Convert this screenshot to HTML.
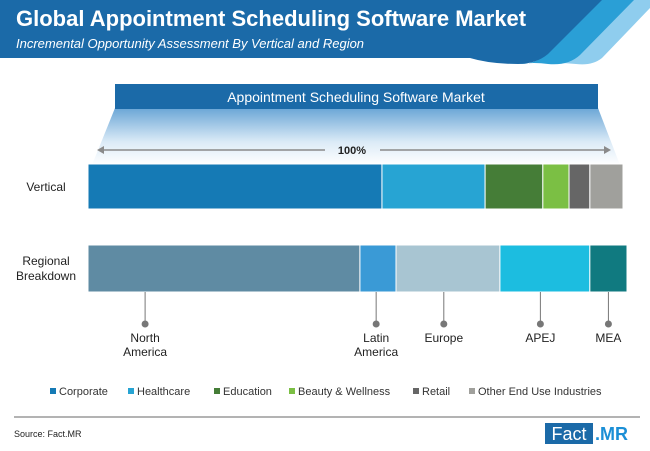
<!DOCTYPE html>
<html><head><meta charset="utf-8"><style>
html,body{margin:0;padding:0;background:#fff;}
svg{display:block;font-family:"Liberation Sans",sans-serif;}
</style></head><body>
<svg id="chart" width="650" height="451" viewBox="0 0 650 451">
<defs>
<linearGradient id="fade" x1="0" y1="0" x2="0" y2="1">
<stop offset="0" stop-color="#6aa6d6"/><stop offset="0.6" stop-color="#dcebf7"/><stop offset="1" stop-color="#ffffff"/>
</linearGradient>
</defs>
<g>
<path d="M632 0 H650 V8 L602 58 Q592 66 576 64 Q566 63 558 63 Q570 62 578 54 Z" fill="#8fcdee"/>
<path d="M600 0 H634 L580 55 Q568 66 548 64 Q534 62 520 64 Q535 64 545 55 Z" fill="#2a9fd6"/>
<path d="M0 0 H602 L548 54 Q536 64 518 64 Q490 64 470 58 H0 Z" fill="#1b6aa8"/>
<text x="16" y="26" fill="#fff" font-size="22" font-weight="bold">Global Appointment Scheduling Software Market</text>
<text x="16" y="48" fill="#fff" font-size="13" font-style="italic">Incremental Opportunity Assessment By Vertical and Region</text>
</g>
<path d="M115 108 H598 L620 165 H92 Z" fill="url(#fade)"/>
<rect x="115" y="84" width="483" height="25" fill="#1b6aa8"/>
<text x="356" y="102" fill="#fff" font-size="14" text-anchor="middle">Appointment Scheduling Software Market</text>
<g stroke="#8a8a8a" stroke-width="1.5" fill="#8a8a8a">
<line x1="100" y1="150" x2="325" y2="150"/><line x1="380" y1="150" x2="608" y2="150"/>
<path d="M97 150 L104 146 L104 154 Z" stroke="none"/><path d="M611 150 L604 146 L604 154 Z" stroke="none"/>
</g>
<text x="352" y="154" font-size="11" font-weight="bold" text-anchor="middle" fill="#222">100%</text>
<text x="46" y="191" font-size="12" text-anchor="middle" fill="#222">Vertical</text>
<text x="46" y="265" font-size="12" text-anchor="middle" fill="#222">Regional</text>
<text x="46" y="280" font-size="12" text-anchor="middle" fill="#222">Breakdown</text>
<g id="bars"></g>
<line x1="14" y1="417" x2="640" y2="417" stroke="#9a9a9a" stroke-width="1.5"/>
<text x="14" y="437" font-size="9" fill="#222">Source: Fact.MR</text>
<g>
<rect x="545" y="423" width="48" height="21" fill="#1b6aa8"/>
<text x="569" y="440" font-size="18" fill="#fff" text-anchor="middle">Fact</text>
<text x="595" y="440" font-size="18" fill="#1b8fd6" font-weight="bold">.MR</text>
</g>
</svg>
<script>
const verticalCategories = ["Corporate","Healthcare","Education","Beauty & Wellness","Retail","Other End Use Industries"];
const verticalShares = [55, 19.3, 10.8, 4.9, 3.9, 6.2];
const verticalColors = ["#157ab5","#27a4d3","#457d37","#7bbf44","#666666","#a0a09c"];
const regionCategories = ["North America","Latin America","Europe","APEJ","MEA"];
const regionShares = [50.5, 6.7, 19.3, 16.7, 6.9];
const regionColors = ["#5f8ba3","#3a9ad6","#a8c5d2","#1cbde0","#107a80"];
const regionLabelLines = [["North","America"],["Latin","America"],["Europe"],["APEJ"],["MEA"]];
const leaderFraction = [0.21, 0.45, 0.46, 0.45, 0.5];

const NS = "http://www.w3.org/2000/svg";
const g = document.getElementById("bars");
function mk(tag, attrs){const e=document.createElementNS(NS,tag);for(const k in attrs)e.setAttribute(k,attrs[k]);g.appendChild(e);return e;}
function xScale(total, x0, w){return v => x0 + v/total*w;}

(function(){
  const total = verticalShares.reduce((a,b)=>a+b,0);
  const sx = xScale(total, 88, 535);
  let acc = 0;
  verticalShares.forEach((v,i)=>{
    const r = mk("rect",{x:sx(acc),y:164,width:sx(acc+v)-sx(acc),height:45,fill:verticalColors[i],stroke:"#fff","stroke-width":1});
    
    
    acc += v;
  });
})();

(function(){
  const total = regionShares.reduce((a,b)=>a+b,0);
  const sx = xScale(total, 88, 539);
  let acc = 0;
  regionShares.forEach((v,i)=>{
    const r = mk("rect",{x:sx(acc),y:245,width:sx(acc+v)-sx(acc),height:47,fill:regionColors[i],stroke:"#fff","stroke-width":1});
    
    
    const cx = sx(acc) + (sx(acc+v)-sx(acc))*leaderFraction[i];
    const ln = mk("line",{x1:cx,y1:292,x2:cx,y2:323,stroke:"#777","stroke-width":1});
    
    
    const dot = mk("circle",{cx:cx,cy:324,r:3.5,fill:"#777"});
    
    
    const t = mk("text",{x:cx,y:342,"font-size":12,"text-anchor":"middle",fill:"#222"});
    
    
    regionLabelLines[i].forEach((s,j)=>{const ts=document.createElementNS(NS,"tspan");ts.setAttribute("x",cx);ts.setAttribute("dy",j?14:0);ts.textContent=s;t.appendChild(ts);});
    acc += v;
  });
})();

const legendX = [50,128,214,289,413,469];
verticalCategories.forEach((c,i)=>{
  const sq = mk("rect",{x:legendX[i],y:388,width:6,height:6,fill:verticalColors[i]});
  
  
  const t = mk("text",{x:legendX[i]+9,y:395,"font-size":11,fill:"#333"});
  
  
  t.textContent = c;
});
</script>
</body></html>
